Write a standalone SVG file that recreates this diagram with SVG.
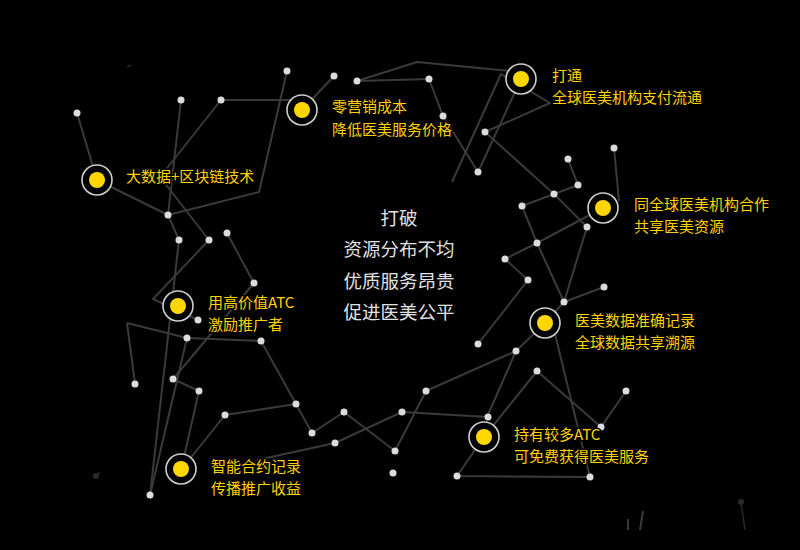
<svg xmlns="http://www.w3.org/2000/svg" width="800" height="550" viewBox="0 0 800 550">
<style>
.ln{stroke:#3a3a3a;stroke-width:2;fill:none;stroke-linejoin:round}
.dk{stroke:#2a2a2a;stroke-width:1.5;fill:none}
.dot{fill:#dcdcdc}
.ring{fill:#000;stroke:#cfcfcf;stroke-width:1.6}
.core{fill:#ffd700}
.lbl{font-family:"Microsoft YaHei","Noto Sans CJK SC",sans-serif;font-size:15px;fill:#ffd200;stroke:#000;stroke-width:3;paint-order:stroke}
.ctr{font-family:"Microsoft YaHei","Noto Sans CJK SC",sans-serif;font-size:18.5px;fill:#e2e2e2;text-anchor:middle}
</style>
<rect width="800" height="550" fill="#000"/>
<g id="connectors">
<polyline class="ln" points="77,113 97,180 168,215"/>
<line class="ln" x1="181" y1="100" x2="168" y2="215"/>
<polyline class="ln" points="221,100 160,177 209,240"/>
<line class="ln" x1="221" y1="100" x2="296" y2="100"/>
<polyline class="ln" points="287,71 259,192 168,215 179,240 150,495"/>
<polyline class="ln" points="209,240 153,299 198,320"/>
<polyline class="ln" points="227,233 254,283 173,379 199,391 181,470 225,415 296,404 312,433 344,412 395,451 426,391 516,351 545,323"/>
<line class="ln" x1="127" y1="323" x2="135" y2="384"/>
<polyline class="ln" points="127,323 187,338 261,341 296,404"/>
<line class="ln" x1="187" y1="338" x2="150" y2="495"/>
<polyline class="ln" points="488,417 402,412 335,443 257,460"/>
<line class="ln" x1="302" y1="110" x2="334" y2="76"/>
<line class="ln" x1="357" y1="81" x2="429" y2="79"/>
<polyline class="ln" points="357,81 417,62 521,72"/>
<polyline class="ln" points="429,79 443,116 478,172 521,79"/>
<polyline class="ln" points="452,182 501,74 550,103 485,132 554,194 587,227 564,302 537,243 522,206 554,194 578,185 568,159"/>
<line class="ln" x1="614" y1="148" x2="619" y2="201"/>
<line class="ln" x1="537" y1="243" x2="603" y2="208"/>
<polyline class="ln" points="537,243 505,259 528,280 478,344"/>
<line class="ln" x1="564" y1="302" x2="604" y2="287"/>
<line class="ln" x1="564" y1="302" x2="545" y2="323"/>
<line class="ln" x1="516" y1="351" x2="487" y2="417"/>
<line class="ln" x1="554" y1="330" x2="590" y2="477"/>
<line class="ln" x1="537" y1="371" x2="484" y2="437"/>
<polyline class="ln" points="537,371 601,427 626,391"/>
<polyline class="ln" points="484,437 457,476 590,477"/>
<line class="dk" x1="127" y1="67" x2="131" y2="65"/>
<line class="dk" x1="96" y1="476" x2="100" y2="472"/>
<line class="dk" x1="741" y1="502" x2="745" y2="530"/>
<line class="ln" x1="628" y1="519" x2="628" y2="530"/>
<line class="ln" x1="643" y1="511" x2="640" y2="530"/>
<circle cx="96" cy="476" r="3" fill="#2a2a2a"/>
<circle cx="741" cy="502" r="3" fill="#2a2a2a"/>
</g>
<g id="dots">
<circle class="dot" cx="77" cy="113" r="3.5"/><circle class="dot" cx="181" cy="100" r="3.5"/><circle class="dot" cx="221" cy="100" r="3.5"/><circle class="dot" cx="287" cy="71" r="3.5"/><circle class="dot" cx="168" cy="215" r="3.5"/><circle class="dot" cx="179" cy="240" r="3.5"/><circle class="dot" cx="209" cy="240" r="3.5"/><circle class="dot" cx="227" cy="233" r="3.5"/><circle class="dot" cx="334" cy="76" r="3.5"/><circle class="dot" cx="357" cy="81" r="3.5"/><circle class="dot" cx="429" cy="79" r="3.5"/><circle class="dot" cx="443" cy="116" r="3.5"/><circle class="dot" cx="485" cy="132" r="3.5"/><circle class="dot" cx="478" cy="172" r="3.5"/><circle class="dot" cx="568" cy="159" r="3.5"/><circle class="dot" cx="578" cy="185" r="3.5"/><circle class="dot" cx="554" cy="194" r="3.5"/><circle class="dot" cx="522" cy="206" r="3.5"/><circle class="dot" cx="614" cy="148" r="3.5"/><circle class="dot" cx="587" cy="227" r="3.5"/><circle class="dot" cx="537" cy="243" r="3.5"/><circle class="dot" cx="505" cy="259" r="3.5"/><circle class="dot" cx="528" cy="280" r="3.5"/><circle class="dot" cx="604" cy="287" r="3.5"/><circle class="dot" cx="564" cy="302" r="3.5"/><circle class="dot" cx="478" cy="344" r="3.5"/><circle class="dot" cx="516" cy="351" r="3.5"/><circle class="dot" cx="537" cy="371" r="3.5"/><circle class="dot" cx="626" cy="391" r="3.5"/><circle class="dot" cx="601" cy="427" r="3.5"/><circle class="dot" cx="488" cy="417" r="3.5"/><circle class="dot" cx="590" cy="477" r="3.5"/><circle class="dot" cx="457" cy="476" r="3.5"/><circle class="dot" cx="426" cy="391" r="3.5"/><circle class="dot" cx="402" cy="412" r="3.5"/><circle class="dot" cx="395" cy="451" r="3.5"/><circle class="dot" cx="393" cy="473" r="3.5"/><circle class="dot" cx="344" cy="412" r="3.5"/><circle class="dot" cx="335" cy="443" r="3.5"/><circle class="dot" cx="312" cy="433" r="3.5"/><circle class="dot" cx="296" cy="404" r="3.5"/><circle class="dot" cx="225" cy="415" r="3.5"/><circle class="dot" cx="199" cy="391" r="3.5"/><circle class="dot" cx="173" cy="379" r="3.5"/><circle class="dot" cx="135" cy="384" r="3.5"/><circle class="dot" cx="150" cy="495" r="3.5"/><circle class="dot" cx="187" cy="338" r="3.5"/><circle class="dot" cx="261" cy="341" r="3.5"/><circle class="dot" cx="198" cy="320" r="3.5"/><circle class="dot" cx="254" cy="283" r="3.5"/>
</g>
<g id="nodeA"><circle class="ring" cx="97" cy="180" r="15"/><circle class="core" cx="97" cy="180" r="8"/><text class="lbl" x="126" y="182">大数据+区块链技术</text></g>
<g id="nodeB"><circle class="ring" cx="302" cy="110" r="15"/><circle class="core" cx="302" cy="110" r="8"/><text class="lbl" x="332" y="112">零营销成本</text><text class="lbl" x="332" y="135">降低医美服务价格</text></g>
<g id="nodeC"><circle class="ring" cx="521" cy="79" r="15"/><circle class="core" cx="521" cy="79" r="8"/><text class="lbl" x="552" y="81">打通</text><text class="lbl" x="552" y="103">全球医美机构支付流通</text></g>
<g id="nodeD"><circle class="ring" cx="603" cy="208" r="15"/><circle class="core" cx="603" cy="208" r="8"/><text class="lbl" x="634" y="210">同全球医美机构合作</text><text class="lbl" x="634" y="232">共享医美资源</text></g>
<g id="nodeE"><circle class="ring" cx="178" cy="306" r="15"/><circle class="core" cx="178" cy="306" r="8"/><text class="lbl" x="208" y="308">用高价值ATC</text><text class="lbl" x="208" y="330">激励推广者</text></g>
<g id="nodeF"><circle class="ring" cx="545" cy="323" r="15"/><circle class="core" cx="545" cy="323" r="8"/><text class="lbl" x="575" y="326">医美数据准确记录</text><text class="lbl" x="575" y="348">全球数据共享溯源</text></g>
<g id="nodeG"><circle class="ring" cx="484" cy="437" r="15"/><circle class="core" cx="484" cy="437" r="8"/><text class="lbl" x="514" y="440">持有较多ATC</text><text class="lbl" x="514" y="462">可免费获得医美服务</text></g>
<g id="nodeH"><circle class="ring" cx="181" cy="469" r="15"/><circle class="core" cx="181" cy="469" r="8"/><text class="lbl" x="211" y="472">智能合约记录</text><text class="lbl" x="211" y="494">传播推广收益</text></g>
<g id="center">
<text class="ctr" x="399" y="225">打破</text>
<text class="ctr" x="399" y="256">资源分布不均</text>
<text class="ctr" x="399" y="288">优质服务昂贵</text>
<text class="ctr" x="399" y="319">促进医美公平</text>
</g>
</svg>
